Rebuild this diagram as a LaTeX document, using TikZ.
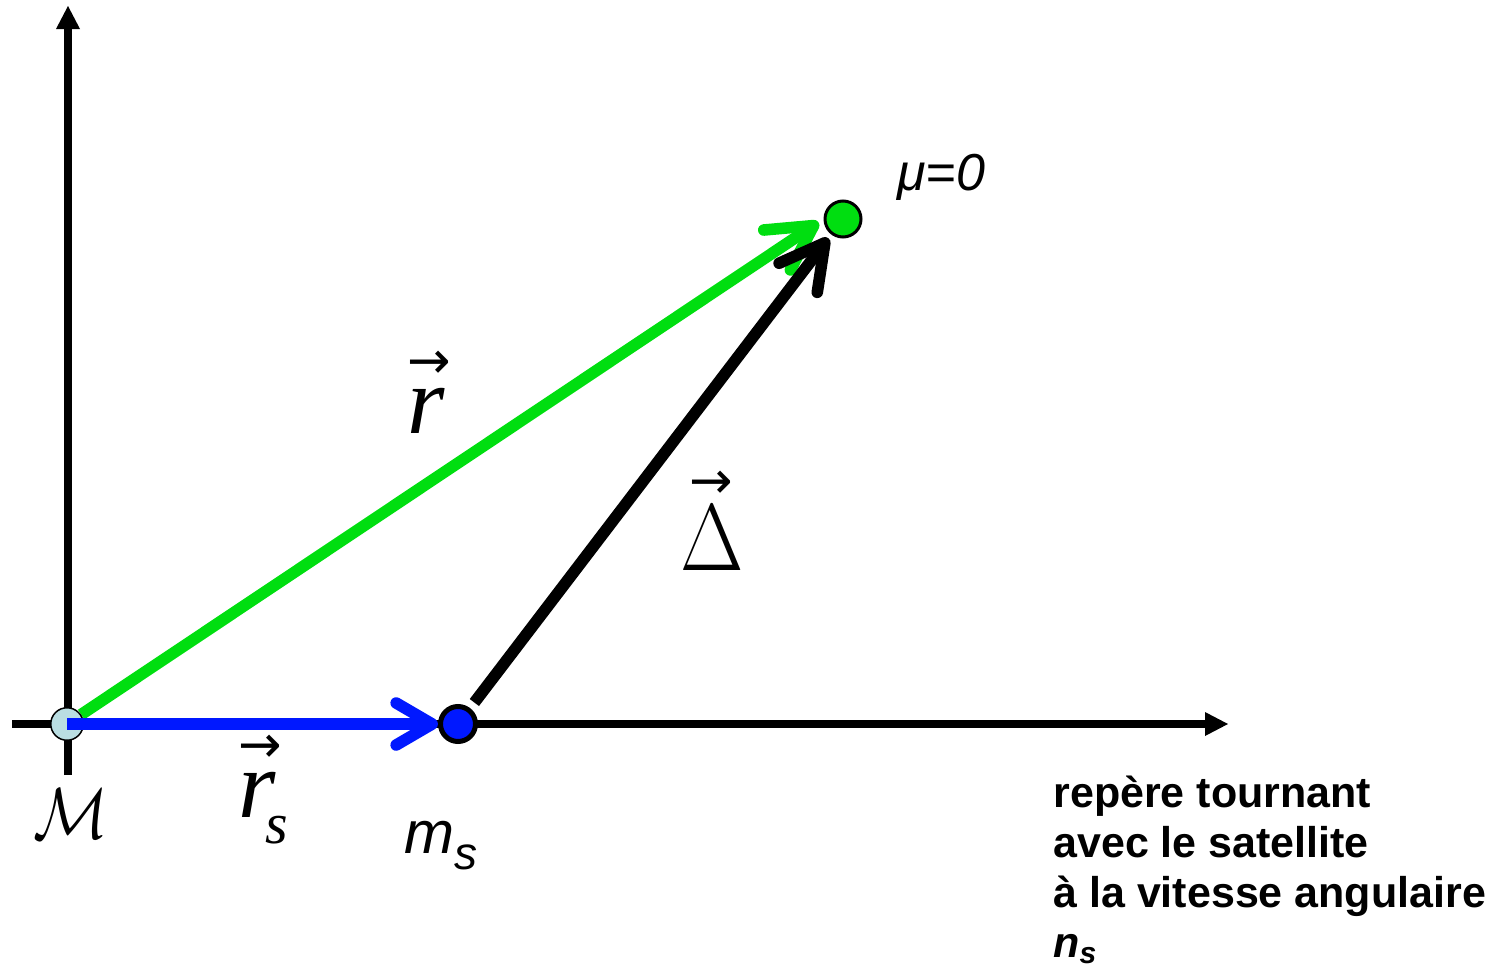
\documentclass[tikz,border=0pt]{standalone}
\usepackage{fontspec}
\setmainfont{Liberation Serif}
\setsansfont{Liberation Sans}
\newfontfamily\arrowfont{DejaVu Sans}
\usetikzlibrary{arrows.meta}
\definecolor{agreen}{RGB}{0,222,16}
\definecolor{ablue}{RGB}{0,24,255}
\definecolor{lightb}{RGB}{186,222,226}
\pgfdeclarelayer{back}
\pgfdeclarelayer{mid}
\pgfdeclarelayer{arr}
\pgfsetlayers{back,mid,arr,main}
\newcommand{\veclabel}[3]{\rlap{\hspace*{#2}\raisebox{#3}{\arrowfont\fontsize{26}{26}\selectfont →}}#1}
\tikzset{
  dot/.style={circle, draw=black, inner sep=0pt},
  lab/.style={inner sep=0pt, anchor=base west},
  axis/.style={line width=4pt, -{Triangle[length=11.5pt,width=12pt,line width=0pt]}},
  vecarrow/.style={line width=5.8pt, line cap=butt},
}
\begin{document}
\begin{tikzpicture}[x=0.5pt,y=-0.5pt]
\useasboundingbox (0,0) rectangle (1505,969);
% points
\begin{pgfonlayer}{mid}
\node[dot, fill=lightb, line width=0.75pt, minimum size=16.25pt] (M) at (67,724) {};
\end{pgfonlayer}
\node[dot, fill=ablue, line width=2.5pt, minimum size=17.5pt] (ms) at (458,724) {};
\node[dot, fill=agreen, line width=1.5pt, minimum size=18pt] (mu) at (843,219) {};
% axes
\coordinate (xstart) at (12,724);
\coordinate (xend) at (1228,724);
\coordinate (ybot) at (68,775);
\coordinate (ytop) at (68,6);
\begin{pgfonlayer}{back}
\draw[axis] (xstart) -- (xend);
\draw[axis] (ybot) -- (ytop);
\draw[vecarrow, agreen, -{Straight Barb[length=22pt,width=24pt,round]}, shorten >=3pt] (M) -- (mu.west);
\end{pgfonlayer}
\begin{pgfonlayer}{arr}
\draw[vecarrow, ablue, -{Straight Barb[length=18pt,width=21pt,round]}] (M.center) -- (ms);
\draw[vecarrow, black, -{Straight Barb[length=22pt,width=24pt,round]}, shorten <=3.5pt, shorten >=2.3pt] (ms) -- (mu);
\end{pgfonlayer}
% labels
\node[lab] (mulab) at (897,190) {\sffamily\itshape\fontsize{26}{26}\selectfont μ=0};
\node[lab] (rlab) at (407,433) {\veclabel{\fontsize{48}{48}\selectfont\itshape r}{0pt}{27.5pt}};
\node[lab] (dlab) at (680,570) {\veclabel{\scalebox{1.65}[1.909]{\fontsize{24.88}{24.88}\selectfont$\Delta$}}{4.5pt}{36pt}};
\node[lab] (rslab) at (238,817) {\veclabel{\fontsize{48}{48}\selectfont\itshape r\hspace{-5pt}\raisebox{-13pt}{\fontsize{29}{29}\selectfont s}}{0pt}{27.5pt}};
\node[lab] (Mlab) at (33,838) {\scalebox{1.25}[1.45]{\fontsize{24.88}{24.88}\selectfont$\mathcal{M}$}};
\node[lab] (mslab) at (404,853) {\sffamily\itshape\fontsize{30}{30}\selectfont m\raisebox{-8pt}{\fontsize{23}{23}\selectfont s}};
\node[lab, align=left, font=\fontsize{21.5}{25}\selectfont\sffamily\bfseries] (note) at (1053,957) {repère tournant\\avec le satellite\\à la vitesse angulaire\\\textit{n}\textsubscript{\textit{s}}};
\end{tikzpicture}
\end{document}
